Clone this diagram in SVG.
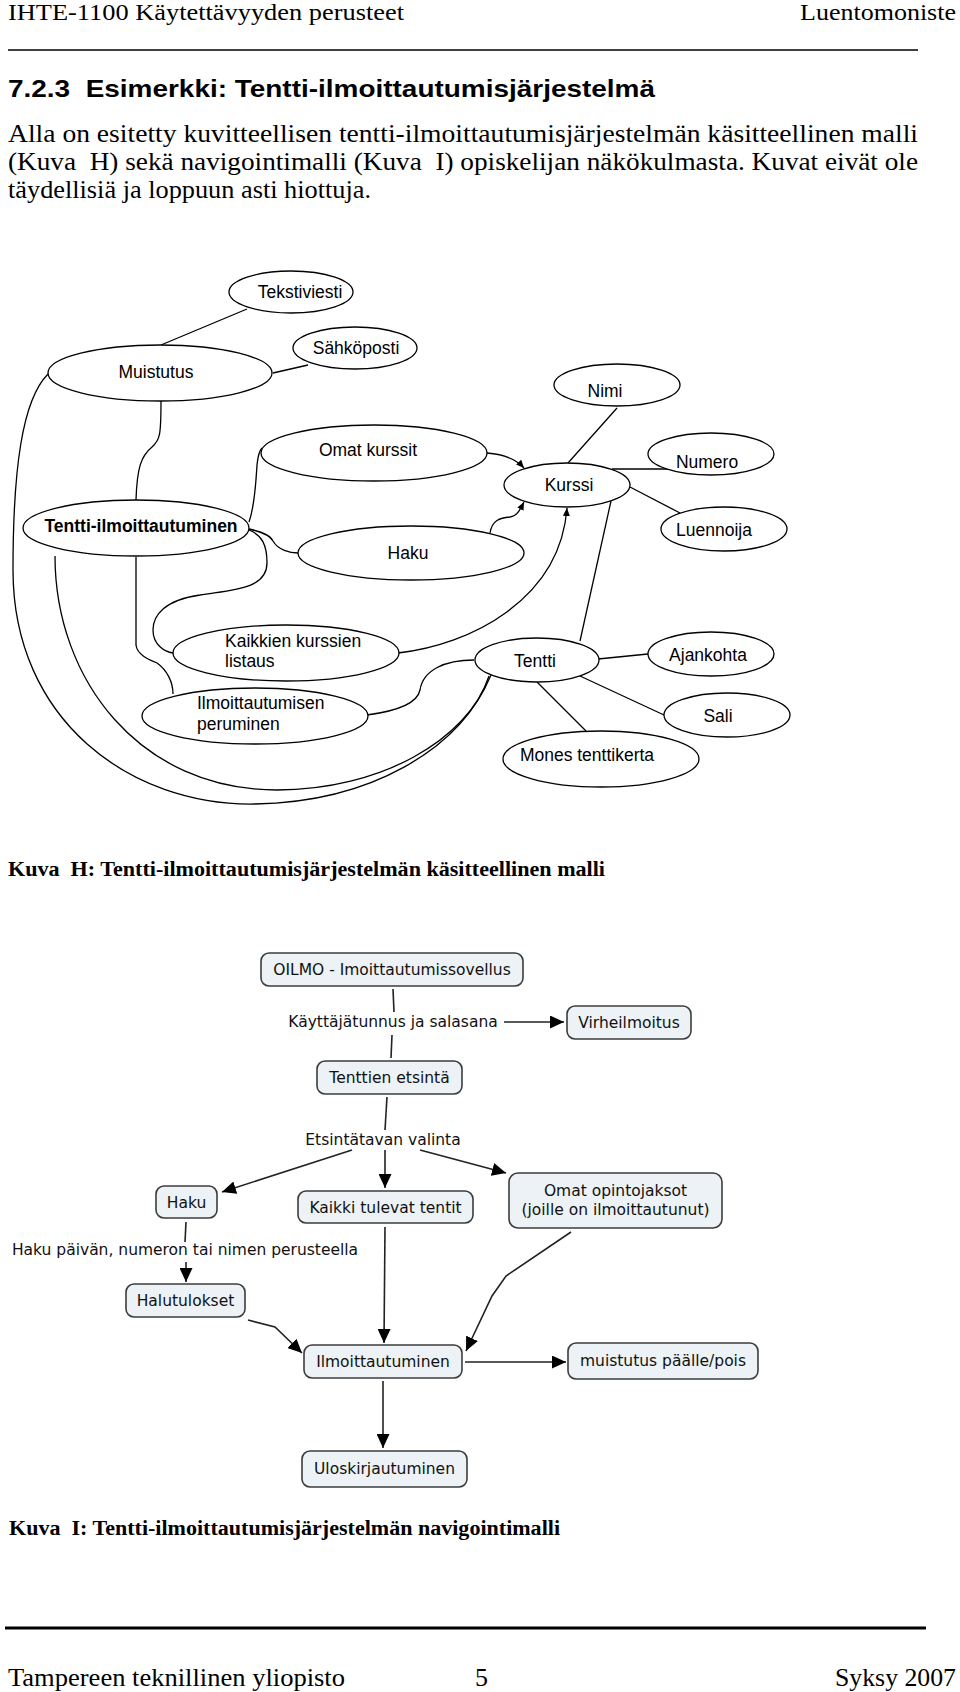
<svg xmlns="http://www.w3.org/2000/svg" width="960" height="1692" viewBox="0 0 960 1692">
<defs>
<style>
.serif{font-family:"Liberation Serif","Times New Roman",serif;fill:#000}
.hd{font-size:24px}
.para{font-size:26px}
.ft{font-size:26px}
.cap{font-size:20px;font-weight:bold}
.title{font-family:"Liberation Sans",Arial,sans-serif;font-size:24px;font-weight:bold}
.en{fill:#fff;stroke:#000;stroke-width:1.3}
.et{font-family:"Liberation Sans",Arial,sans-serif;font-size:17.5px;fill:#000}
.ec{fill:none;stroke:#000;stroke-width:1.3}
.bx{fill:#ecf2f5;stroke:#3c3c3c;stroke-width:1.6}
.bt{font-family:"DejaVu Sans",Verdana,sans-serif;font-size:15.5px;fill:#111;text-anchor:middle}
.nc{fill:none;stroke:#222;stroke-width:1.6}
</style>
<marker id="ah" markerUnits="userSpaceOnUse" markerWidth="8" markerHeight="7" refX="8" refY="3.5" orient="auto"><path d="M0,0 L8,3.5 L0,7 z" fill="#000"/></marker>
<marker id="an" markerUnits="userSpaceOnUse" markerWidth="14" markerHeight="13" refX="14" refY="6.5" orient="auto"><path d="M0,0 L14,6.5 L0,13 z" fill="#000"/></marker>
</defs>
<rect width="960" height="1692" fill="#fff"/>

<g id="page-text">
<text class="serif hd" x="8" y="20" textLength="396" lengthAdjust="spacingAndGlyphs">IHTE-1100 Käytettävyyden perusteet</text>
<text class="serif hd" x="956" y="20" text-anchor="end" textLength="156" lengthAdjust="spacingAndGlyphs">Luentomoniste</text>
<line x1="8" y1="50" x2="918" y2="50" stroke="#000" stroke-width="1.5"/>
<text class="title" x="8" y="97" textLength="647" lengthAdjust="spacingAndGlyphs" xml:space="preserve">7.2.3  Esimerkki: Tentti-ilmoittautumisjärjestelmä</text>
<text class="serif para" x="8" y="142" textLength="910" lengthAdjust="spacingAndGlyphs">Alla on esitetty kuvitteellisen tentti-ilmoittautumisjärjestelmän käsitteellinen malli</text>
<text class="serif para" x="8" y="170" textLength="910" lengthAdjust="spacingAndGlyphs" xml:space="preserve">(Kuva  H) sekä navigointimalli (Kuva  I) opiskelijan näkökulmasta. Kuvat eivät ole</text>
<text class="serif para" x="8" y="198" textLength="363" lengthAdjust="spacingAndGlyphs">täydellisiä ja loppuun asti hiottuja.</text>
<text class="serif cap" x="8" y="876" textLength="597" lengthAdjust="spacingAndGlyphs" xml:space="preserve">Kuva  H: Tentti-ilmoittautumisjärjestelmän käsitteellinen malli</text>
<text class="serif cap" x="9" y="1535" textLength="551" lengthAdjust="spacingAndGlyphs" xml:space="preserve">Kuva  I: Tentti-ilmoittautumisjärjestelmän navigointimalli</text>
<line x1="5" y1="1628" x2="926" y2="1628" stroke="#000" stroke-width="3"/>
<text class="serif ft" x="8" y="1686" textLength="337" lengthAdjust="spacingAndGlyphs">Tampereen teknillinen yliopisto</text>
<text class="serif ft" x="475" y="1686">5</text>
<text class="serif ft" x="956" y="1686" text-anchor="end" textLength="121" lengthAdjust="spacingAndGlyphs">Syksy 2007</text>
</g>

<g id="connectors-H">
<path class="ec" d="M247,309 L161,345"/>
<path class="ec" d="M308,365 L273,373"/>
<path class="ec" d="M161,401 C161,435 160,440 152,447 C141,456 137,468 136,500"/>
<path class="ec" d="M48,374 C22,400 13,470 13,570 C13,720 130,806 255,804 C370,802 460,750 491,675"/>
<path class="ec" d="M55,556 C55,680 140,790 277,790 C380,790 468,740 489,676"/>
<path class="ec" d="M136,557 L136,645 C137,655 150,660 157,663 C167,670 173,682 173,694"/>
<path class="ec" d="M249,530 C262,535 267,545 267,563 C267,590 230,590 200,595 C165,600 153,615 153,630 C153,645 165,652 173,653"/>
<path class="ec" d="M249,522 C255,505 256,480 257,465 C258,455 260,450 262,448"/>
<path class="ec" d="M249,529 C262,532 270,535 273,541 C278,550 290,553 298,553"/>
<path class="ec" d="M487,453 C500,454 515,458 524,468" marker-end="url(#ah)"/>
<path class="ec" d="M490,533 C492,520 500,518 510,517 C517,516 520,510 524,502" marker-end="url(#ah)"/>
<path class="ec" d="M398,653 C470,645 560,600 567,508" marker-end="url(#ah)"/>
<path class="ec" d="M367,715 C405,710 418,700 420,690 C423,670 445,660 474,660"/>
<path class="ec" d="M617,408 L568,463"/>
<path class="ec" d="M612,469 L668,469"/>
<path class="ec" d="M630,487 L680,513"/>
<path class="ec" d="M611,501 L580,641"/>
<path class="ec" d="M598,659 L648,654"/>
<path class="ec" d="M580,676 L664,715"/>
<path class="ec" d="M537,682 L586,731"/>
</g>

<g id="n-tekstiviesti"><ellipse class="en" cx="291" cy="292" rx="62" ry="21"/><text class="et" x="300" y="298" text-anchor="middle">Tekstiviesti</text></g>
<g id="n-sahkoposti"><ellipse class="en" cx="355" cy="348" rx="62" ry="21"/><text class="et" x="356" y="354" text-anchor="middle">Sähköposti</text></g>
<g id="n-muistutus"><ellipse class="en" cx="160" cy="373" rx="112" ry="28"/><text class="et" x="156" y="378" text-anchor="middle">Muistutus</text></g>
<g id="n-nimi"><ellipse class="en" cx="617" cy="385" rx="63" ry="21"/><text class="et" x="605" y="397" text-anchor="middle">Nimi</text></g>
<g id="n-omat-kurssit"><ellipse class="en" cx="374" cy="453" rx="113" ry="28"/><text class="et" x="368" y="456" text-anchor="middle">Omat kurssit</text></g>
<g id="n-numero"><ellipse class="en" cx="711" cy="454" rx="63" ry="21"/><text class="et" x="707" y="468" text-anchor="middle">Numero</text></g>
<g id="n-kurssi"><ellipse class="en" cx="567" cy="485" rx="63" ry="22"/><text class="et" x="569" y="491" text-anchor="middle">Kurssi</text></g>
<g id="n-tentti-ilmoittautuminen"><ellipse class="en" cx="136" cy="528" rx="113" ry="28"/><text class="et" x="141" y="532" text-anchor="middle" font-weight="bold">Tentti-ilmoittautuminen</text></g>
<g id="n-luennoija"><ellipse class="en" cx="724" cy="529" rx="63" ry="22"/><text class="et" x="714" y="536" text-anchor="middle">Luennoija</text></g>
<g id="n-haku"><ellipse class="en" cx="411" cy="553" rx="113" ry="27"/><text class="et" x="408" y="559" text-anchor="middle">Haku</text></g>
<g id="n-kaikkien"><ellipse class="en" cx="286" cy="653" rx="113" ry="28"/><text class="et" x="225" y="647">Kaikkien kurssien</text><text class="et" x="225" y="667">listaus</text></g>
<g id="n-ajankohta"><ellipse class="en" cx="711" cy="654" rx="63" ry="22"/><text class="et" x="708" y="661" text-anchor="middle">Ajankohta</text></g>
<g id="n-tentti"><ellipse class="en" cx="537" cy="660" rx="62" ry="22"/><text class="et" x="535" y="667" text-anchor="middle">Tentti</text></g>
<g id="n-peruminen"><ellipse class="en" cx="255" cy="716" rx="113" ry="28"/><text class="et" x="197" y="709">Ilmoittautumisen</text><text class="et" x="197" y="730">peruminen</text></g>
<g id="n-sali"><ellipse class="en" cx="727" cy="715" rx="63" ry="22"/><text class="et" x="718" y="722" text-anchor="middle">Sali</text></g>
<g id="n-mones"><ellipse class="en" cx="601" cy="759" rx="98" ry="28"/><text class="et" x="587" y="761" text-anchor="middle">Mones tenttikerta</text></g>

<g id="connectors-I">
<path class="nc" d="M393,989 L394,1012"/>
<path class="nc" d="M392,1035 L391,1058"/>
<path class="nc" d="M504,1022 L564,1022" marker-end="url(#an)"/>
<path class="nc" d="M387,1097 L385,1130"/>
<path class="nc" d="M352,1150 L222,1192" marker-end="url(#an)"/>
<path class="nc" d="M385,1150 L385,1188" marker-end="url(#an)"/>
<path class="nc" d="M420,1150 L506,1173" marker-end="url(#an)"/>
<path class="nc" d="M186,1222 L185,1242"/>
<path class="nc" d="M186,1262 L186,1282" marker-end="url(#an)"/>
<path class="nc" d="M248,1320 L275,1327 L302,1353" marker-end="url(#an)"/>
<path class="nc" d="M385,1227 L384,1343" marker-end="url(#an)"/>
<path class="nc" d="M571,1232 L506,1276 L492,1296 L466,1351" marker-end="url(#an)"/>
<path class="nc" d="M465,1362 L566,1362" marker-end="url(#an)"/>
<path class="nc" d="M383,1381 L383,1448" marker-end="url(#an)"/>
</g>

<g id="b-oilmo"><rect class="bx" x="261" y="953" width="262" height="33" rx="8"/><text class="bt" x="392" y="975">OILMO - Imoittautumissovellus</text></g>
<g id="l-kayttajatunnus"><text class="bt" x="393" y="1027">Käyttäjätunnus ja salasana</text></g>
<g id="b-virheilmoitus"><rect class="bx" x="567" y="1006" width="124" height="33" rx="8"/><text class="bt" x="629" y="1028">Virheilmoitus</text></g>
<g id="b-tenttien-etsinta"><rect class="bx" x="317" y="1061" width="145" height="33" rx="8"/><text class="bt" x="389.5" y="1083">Tenttien etsintä</text></g>
<g id="l-etsintatavan"><text class="bt" x="383" y="1145">Etsintätavan valinta</text></g>
<g id="b-haku"><rect class="bx" x="156" y="1186" width="61" height="32" rx="8"/><text class="bt" x="186.5" y="1208">Haku</text></g>
<g id="b-kaikki"><rect class="bx" x="298" y="1191" width="175" height="32" rx="8"/><text class="bt" x="385.5" y="1213">Kaikki tulevat tentit</text></g>
<g id="b-omat"><rect class="bx" x="509" y="1173" width="213" height="55" rx="9"/><text class="bt" x="615.5" y="1196">Omat opintojaksot</text><text class="bt" x="615.5" y="1215">(joille on ilmoittautunut)</text></g>
<g id="l-haku-peruste"><text class="bt" x="185" y="1255">Haku päivän, numeron tai nimen perusteella</text></g>
<g id="b-halutulokset"><rect class="bx" x="126" y="1284" width="119" height="33" rx="8"/><text class="bt" x="185.5" y="1306">Halutulokset</text></g>
<g id="b-ilmoittautuminen"><rect class="bx" x="304" y="1345" width="158" height="33" rx="8"/><text class="bt" x="383" y="1367">Ilmoittautuminen</text></g>
<g id="b-muistutus"><rect class="bx" x="568" y="1343" width="190" height="36" rx="8"/><text class="bt" x="663" y="1366">muistutus päälle/pois</text></g>
<g id="b-uloskirjautuminen"><rect class="bx" x="302" y="1451" width="165" height="36" rx="8"/><text class="bt" x="384.5" y="1474">Uloskirjautuminen</text></g>
</svg>
